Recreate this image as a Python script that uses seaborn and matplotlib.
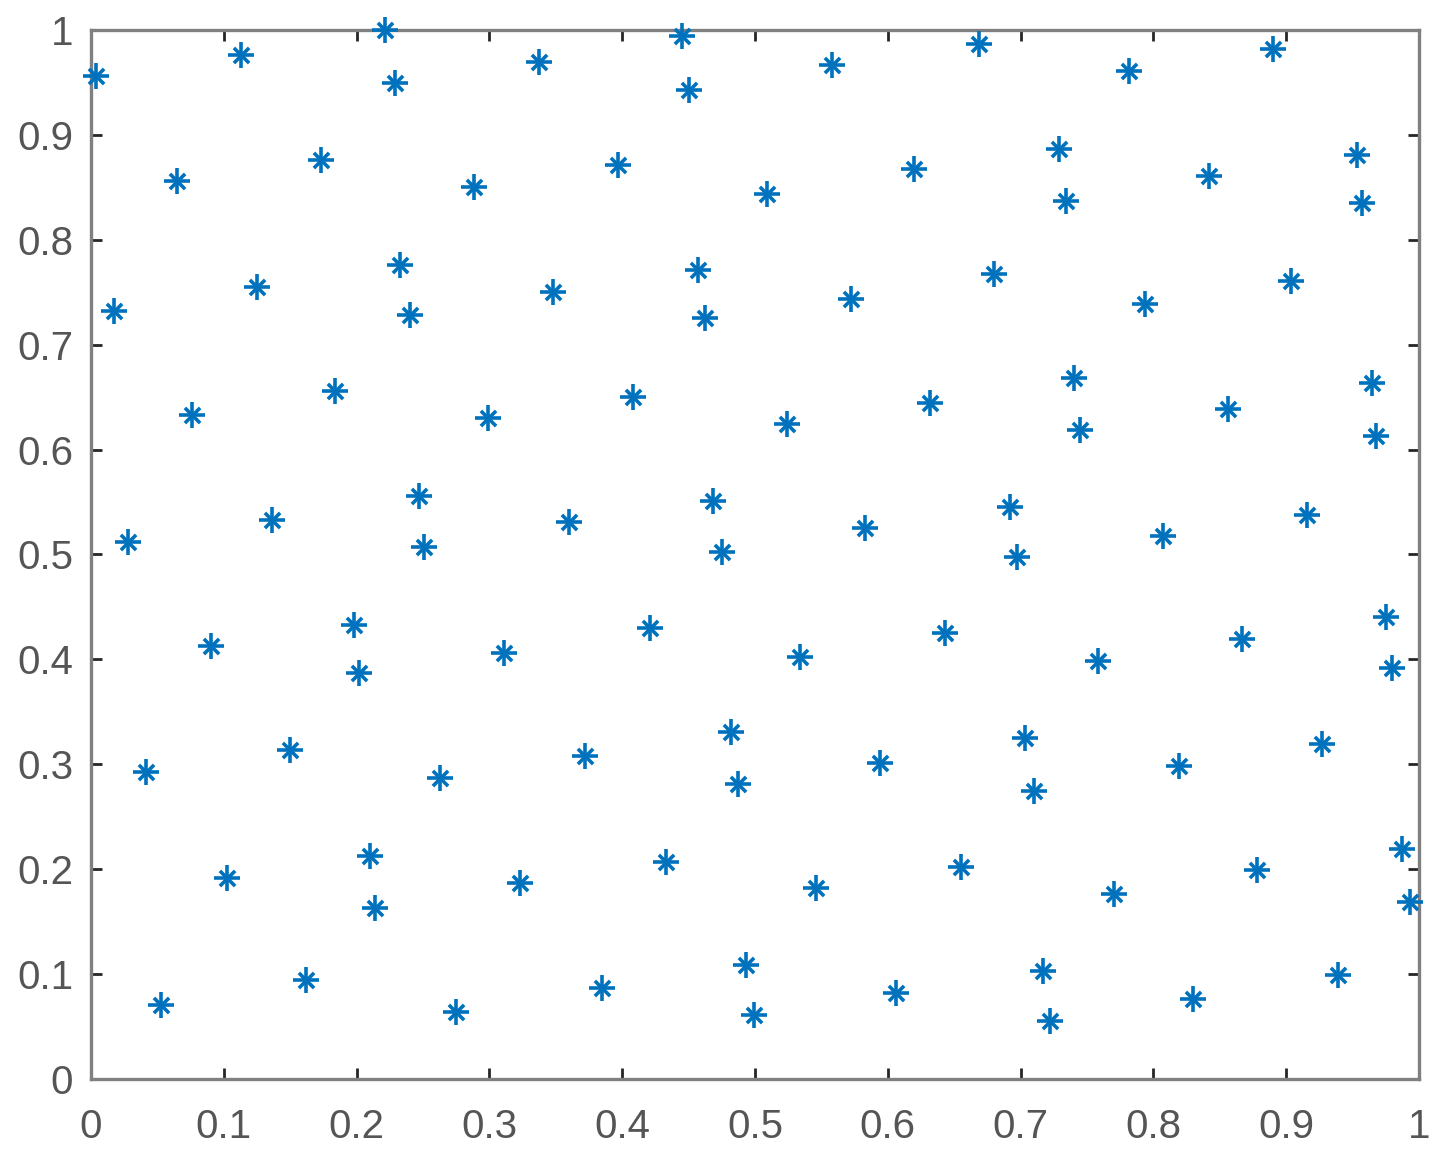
import numpy as np
import pandas as pd
import matplotlib
matplotlib.use('Agg')
import matplotlib.pyplot as plt
import seaborn as sns

# point coordinates
x_vals = [0.004, 0.113, 0.221, 0.229, 0.337, 0.445, 0.450, 0.558, 0.669, 0.782,
          0.890, 0.065, 0.173, 0.288, 0.397, 0.509, 0.620, 0.729, 0.734, 0.842,
          0.953, 0.957, 0.017, 0.125, 0.233, 0.240, 0.348, 0.457, 0.462, 0.572,
          0.680, 0.794, 0.904, 0.076, 0.184, 0.299, 0.408, 0.524, 0.632, 0.740,
          0.745, 0.856, 0.965, 0.968, 0.028, 0.136, 0.247, 0.251, 0.360, 0.468,
          0.475, 0.583, 0.692, 0.697, 0.807, 0.916, 0.090, 0.198, 0.202, 0.311,
          0.421, 0.534, 0.643, 0.758, 0.867, 0.975, 0.980, 0.041, 0.150, 0.263,
          0.372, 0.482, 0.487, 0.594, 0.703, 0.710, 0.819, 0.927, 0.102, 0.210,
          0.214, 0.323, 0.433, 0.546, 0.655, 0.770, 0.878, 0.987, 0.993, 0.053,
          0.162, 0.275, 0.385, 0.493, 0.499, 0.606, 0.717, 0.722, 0.830, 0.939]
y_vals = [0.956, 0.976, 1.000, 0.949, 0.969, 0.994, 0.943, 0.967, 0.987, 0.961,
          0.982, 0.856, 0.876, 0.850, 0.871, 0.844, 0.867, 0.887, 0.837, 0.861,
          0.881, 0.835, 0.732, 0.755, 0.776, 0.728, 0.750, 0.771, 0.725, 0.744,
          0.767, 0.739, 0.761, 0.633, 0.656, 0.630, 0.650, 0.624, 0.644, 0.668,
          0.619, 0.639, 0.663, 0.613, 0.512, 0.533, 0.556, 0.507, 0.531, 0.551,
          0.502, 0.525, 0.545, 0.498, 0.518, 0.538, 0.413, 0.433, 0.387, 0.406,
          0.430, 0.402, 0.425, 0.398, 0.419, 0.440, 0.392, 0.293, 0.314, 0.287,
          0.308, 0.331, 0.281, 0.301, 0.325, 0.275, 0.298, 0.319, 0.192, 0.213,
          0.163, 0.187, 0.207, 0.182, 0.202, 0.176, 0.199, 0.219, 0.169, 0.071,
          0.094, 0.064, 0.087, 0.109, 0.061, 0.082, 0.103, 0.055, 0.076, 0.099]
ticks = [0, 0.1, 0.2, 0.3, 0.4, 0.5, 0.6, 0.7, 0.8, 0.9, 1]
tick_labels = ['0', '0.1', '0.2', '0.3', '0.4', '0.5', '0.6', '0.7', '0.8', '0.9', '1']

df = pd.DataFrame({'x': x_vals, 'y': y_vals})

sns.set_style('white')
plt.rcParams['font.family'] = ['Liberation Sans', 'DejaVu Sans']

fig = plt.figure(figsize=(14.41, 11.66), dpi=100)
ax = fig.add_axes([0.0632, 0.0746, 0.9215, 0.8997])

blue = '#0072BD'
# MATLAB-style asterisk: a plus with a smaller cross on top
sns.scatterplot(data=df, x='x', y='y', marker='+', s=340, color=blue,
                linewidth=2.6, ax=ax, clip_on=False, zorder=3)
sns.scatterplot(data=df, x='x', y='y', marker='x', s=120, color=blue,
                linewidth=2.6, ax=ax, clip_on=False, zorder=3)

ax.set_xlim(0, 1)
ax.set_ylim(0, 1)
ax.set_xticks(ticks)
ax.set_yticks(ticks)
ax.set_xticklabels(tick_labels)
ax.set_yticklabels(tick_labels)
ax.set_xlabel('')
ax.set_ylabel('')

for sp in ax.spines.values():
    sp.set_visible(True)
    sp.set_color('#808080')
    sp.set_linewidth(2.4)

ax.tick_params(axis='both', which='both', direction='in', length=8, width=2,
               color='#262626', labelsize=29, labelcolor='#555555',
               top=True, right=True, bottom=True, left=True)
ax.tick_params(axis='x', pad=21)
ax.tick_params(axis='y', pad=13)

fig.savefig('out.png', dpi=100, facecolor='white')
